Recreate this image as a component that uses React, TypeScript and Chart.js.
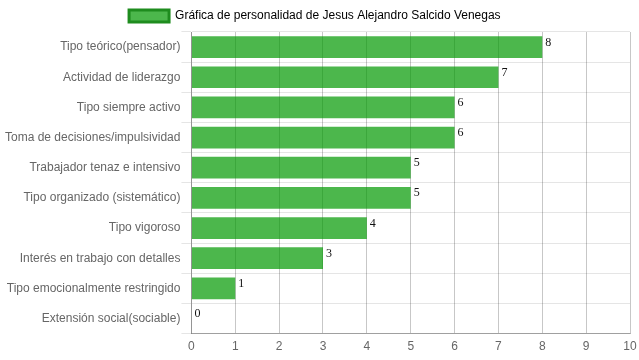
import React, { useEffect, useRef } from "react";
import { Chart, registerables } from "chart.js";

Chart.register(...registerables);

const categories = [
  "Tipo teórico(pensador)",
  "Actividad de liderazgo",
  "Tipo siempre activo",
  "Toma de decisiones/impulsividad",
  "Trabajador tenaz e intensivo",
  "Tipo organizado (sistemático)",
  "Tipo vigoroso",
  "Interés en trabajo con detalles",
  "Tipo emocionalmente restringido",
  "Extensión social(sociable)",
];
const values = [8, 7, 6, 6, 5, 5, 4, 3, 1, 0];
const seriesLabel = "Gráfica de personalidad de Jesus Alejandro Salcido Venegas";

const valueLabels = {
  id: "valueLabels",
  afterDatasetsDraw(chart: any) {
    const ctx = chart.ctx;
    const meta = chart.getDatasetMeta(0);
    ctx.save();
    ctx.font = '12px "Liberation Serif"';
    ctx.fillStyle = "#111";
    ctx.textAlign = "left";
    ctx.textBaseline = "alphabetic";
    meta.data.forEach((bar: any, i: number) => {
      ctx.fillText(String(values[i]), bar.x + 3, bar.y - 1.5);
    });
    ctx.restore();
  },
};

export default function App() {
  const ref = useRef<HTMLCanvasElement>(null);
  useEffect(() => {
    document.body.style.margin = "0";
    const chart = new Chart(ref.current!, {
      type: "bar",
      data: {
        labels: categories,
        datasets: [
          {
            label: seriesLabel,
            data: values,
            backgroundColor: "rgba(0,153,0,0.7)",
            borderColor: "rgba(0,140,0,1)",
            borderWidth: 0,
          },
        ],
      },
      options: {
        indexAxis: "y",
        animation: false,
        responsive: false,
        maintainAspectRatio: false,
        layout: { padding: { left: 4, right: 0 } },
        plugins: {
          tooltip: { enabled: false },
          legend: {
            labels: {
              color: "#666",
              font: { family: '"Liberation Sans", Arial', size: 12 },
              boxWidth: 40,
              generateLabels: () => [
                {
                  text: seriesLabel + "    ",
                  fillStyle: "rgba(0,153,0,0.7)",
                  strokeStyle: "#1e8c1e",
                  lineWidth: 3,
                  hidden: false,
                  datasetIndex: 0,
                },
              ],
            },
          },
        },
        scales: {
          x: {
            min: 0,
            max: 10,
            afterFit: (s: any) => {
              s.paddingRight = 9;
            },
            ticks: {
              stepSize: 1,
              color: "#666",
              padding: 6,
              font: { family: '"Liberation Sans", Arial', size: 12 },
            },
            grid: { color: "rgba(0,0,0,0.22)", drawTicks: false },
            border: { color: "rgba(0,0,0,0.3)" },
          },
          y: {
            ticks: {
              color: "#666",
              padding: 1,
              font: { family: '"Liberation Sans", Arial', size: 12 },
            },
            grid: { color: "rgba(0,0,0,0.1)", tickLength: 10 },
            border: { color: "rgba(0,0,0,0.25)" },
          },
        },
      },
      plugins: [valueLabels],
    });
    return () => chart.destroy();
  }, []);
  return (
    <div style={{ width: 639, height: 360 }}>
      <canvas ref={ref} width={639} height={360} />
    </div>
  );
}
